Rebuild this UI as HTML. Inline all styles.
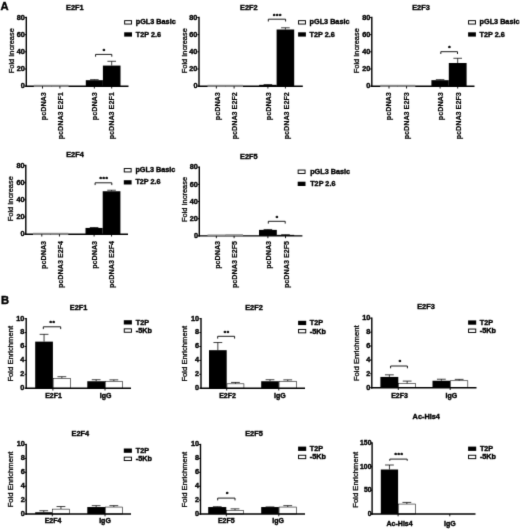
<!DOCTYPE html>
<html lang="en"><head><meta charset="utf-8"><title>E2F figure</title>
<style>html,body{margin:0;padding:0;background:#fff}svg{display:block}text{font-family:"Liberation Sans",Arial,sans-serif}</style></head><body>
<svg width="520" height="529" viewBox="0 0 520 529">
<defs><filter id="soft" x="0" y="0" width="520" height="529" filterUnits="userSpaceOnUse" color-interpolation-filters="sRGB"><feConvolveMatrix order="3" kernelMatrix="0.0113 0.0838 0.0113 0.0838 0.6193 0.0838 0.0113 0.0838 0.0113" edgeMode="duplicate" preserveAlpha="true"/></filter></defs>
<g filter="url(#soft)">
<rect width="520" height="529" fill="#fff"/>
<text x="0.6" y="9.6" font-size="11.2" text-anchor="start" font-weight="bold" stroke="#000" stroke-width="0.4" fill="#000">A</text>
<text x="1" y="304.1" font-size="11.2" text-anchor="start" font-weight="bold" stroke="#000" stroke-width="0.4" fill="#000">B</text>
<g>
<line x1="94.35" y1="80.19" x2="94.35" y2="79.67" stroke="#000" stroke-width="0.75" stroke-linecap="butt"/>
<line x1="90.05" y1="79.67" x2="98.65" y2="79.67" stroke="#000" stroke-width="0.75" stroke-linecap="butt"/>
<rect x="85.8" y="80.19" width="17.1" height="6.01" fill="#000"/>
<line x1="111.7" y1="65.58" x2="111.7" y2="61.29" stroke="#000" stroke-width="0.75" stroke-linecap="butt"/>
<line x1="107.4" y1="61.29" x2="116" y2="61.29" stroke="#000" stroke-width="0.75" stroke-linecap="butt"/>
<rect x="102.9" y="65.58" width="17.6" height="20.62" fill="#000"/>
<line x1="26.3" y1="16.78" x2="26.3" y2="86.9" stroke="#000" stroke-width="1.4" stroke-linecap="butt"/>
<line x1="25.6" y1="86.2" x2="128.5" y2="86.2" stroke="#000" stroke-width="1.4" stroke-linecap="butt"/>
<rect x="33.8" y="84.79" width="17.4" height="2.16" fill="#888888"/>
<rect x="51.2" y="84.79" width="17.4" height="2.16" fill="#888888"/>
<line x1="24.6" y1="86.2" x2="26.3" y2="86.2" stroke="#000" stroke-width="1" stroke-linecap="butt"/>
<text x="24.75" y="88.41" font-size="7.3" text-anchor="end" font-weight="bold" stroke="#000" stroke-width="0.4" fill="#000">0</text>
<line x1="24.6" y1="69.02" x2="26.3" y2="69.02" stroke="#000" stroke-width="1" stroke-linecap="butt"/>
<text x="24.75" y="71.23" font-size="7.3" text-anchor="end" font-weight="bold" stroke="#000" stroke-width="0.4" fill="#000">20</text>
<line x1="24.6" y1="51.84" x2="26.3" y2="51.84" stroke="#000" stroke-width="1" stroke-linecap="butt"/>
<text x="24.75" y="54.05" font-size="7.3" text-anchor="end" font-weight="bold" stroke="#000" stroke-width="0.4" fill="#000">40</text>
<line x1="24.6" y1="34.66" x2="26.3" y2="34.66" stroke="#000" stroke-width="1" stroke-linecap="butt"/>
<text x="24.75" y="36.87" font-size="7.3" text-anchor="end" font-weight="bold" stroke="#000" stroke-width="0.4" fill="#000">60</text>
<line x1="24.6" y1="17.48" x2="26.3" y2="17.48" stroke="#000" stroke-width="1" stroke-linecap="butt"/>
<text x="24.75" y="19.69" font-size="7.3" text-anchor="end" font-weight="bold" stroke="#000" stroke-width="0.4" fill="#000">80</text>
<line x1="42.5" y1="86.2" x2="42.5" y2="88.5" stroke="#000" stroke-width="0.9" stroke-linecap="butt"/>
<line x1="59.9" y1="86.2" x2="59.9" y2="88.5" stroke="#000" stroke-width="0.9" stroke-linecap="butt"/>
<line x1="94.35" y1="86.2" x2="94.35" y2="88.5" stroke="#000" stroke-width="0.9" stroke-linecap="butt"/>
<line x1="111.7" y1="86.2" x2="111.7" y2="88.5" stroke="#000" stroke-width="0.9" stroke-linecap="butt"/>
<text x="74.9" y="10" font-size="7.35" text-anchor="middle" font-weight="bold" stroke="#000" stroke-width="0.4" fill="#000">E2F1</text>
<text x="13.7" y="50.74" font-size="7.45" text-anchor="middle" stroke="#000" stroke-width="0.3" fill="#000" transform="rotate(-90 13.7 50.74)">Fold Increase</text>
<text x="46.3" y="92.2" font-size="7.2" text-anchor="end" font-weight="bold" stroke="#000" stroke-width="0.2" fill="#000" transform="rotate(-90 46.3 92.2)">pcDNA3</text>
<text x="63.3" y="92.2" font-size="7.2" text-anchor="end" font-weight="bold" stroke="#000" stroke-width="0.2" fill="#000" transform="rotate(-90 63.3 92.2)">pcDNA3 E2F1</text>
<text x="97" y="92.2" font-size="7.2" text-anchor="end" font-weight="bold" stroke="#000" stroke-width="0.2" fill="#000" transform="rotate(-90 97 92.2)">pcDNA3</text>
<text x="114.5" y="92.2" font-size="7.2" text-anchor="end" font-weight="bold" stroke="#000" stroke-width="0.2" fill="#000" transform="rotate(-90 114.5 92.2)">pcDNA3 E2F1</text>
<path d="M95.6 56.7 V54.4 H111.8 V56.7" fill="none" stroke="#000" stroke-width="0.9"/>
<text x="104.25" y="53" font-size="6" text-anchor="middle" font-weight="bold" stroke="#000" stroke-width="0.4" fill="#000" letter-spacing="0.7">*</text>
<rect x="124.65" y="20.65" width="6.9" height="3.4" fill="#fff" stroke="#000" stroke-width="0.95"/>
<text x="135.8" y="24.4" font-size="7.25" text-anchor="start" font-weight="bold" stroke="#000" stroke-width="0.4" fill="#000">pGL3 Basic</text>
<rect x="124.2" y="32.3" width="7.8" height="4.3" fill="#000"/>
<text x="135.8" y="36.5" font-size="7.25" text-anchor="start" font-weight="bold" stroke="#000" stroke-width="0.4" fill="#000">T2P 2.6</text>
</g>
<g>
<line x1="267.9" y1="84.83" x2="267.9" y2="84.57" stroke="#000" stroke-width="0.75" stroke-linecap="butt"/>
<line x1="263.6" y1="84.57" x2="272.2" y2="84.57" stroke="#000" stroke-width="0.75" stroke-linecap="butt"/>
<rect x="259.2" y="84.83" width="17.4" height="1.37" fill="#000"/>
<line x1="285.4" y1="29.51" x2="285.4" y2="27.79" stroke="#000" stroke-width="0.75" stroke-linecap="butt"/>
<line x1="281.1" y1="27.79" x2="289.7" y2="27.79" stroke="#000" stroke-width="0.75" stroke-linecap="butt"/>
<rect x="276.6" y="29.51" width="17.6" height="56.69" fill="#000"/>
<line x1="199" y1="16.78" x2="199" y2="86.9" stroke="#000" stroke-width="1.4" stroke-linecap="butt"/>
<line x1="198.3" y1="86.2" x2="302.8" y2="86.2" stroke="#000" stroke-width="1.4" stroke-linecap="butt"/>
<rect x="207.5" y="84.79" width="17.7" height="2.16" fill="#888888"/>
<rect x="225.2" y="84.79" width="17.8" height="2.16" fill="#888888"/>
<line x1="197.3" y1="86.2" x2="199" y2="86.2" stroke="#000" stroke-width="1" stroke-linecap="butt"/>
<text x="197.45" y="88.41" font-size="7.3" text-anchor="end" font-weight="bold" stroke="#000" stroke-width="0.4" fill="#000">0</text>
<line x1="197.3" y1="69.02" x2="199" y2="69.02" stroke="#000" stroke-width="1" stroke-linecap="butt"/>
<text x="197.45" y="71.23" font-size="7.3" text-anchor="end" font-weight="bold" stroke="#000" stroke-width="0.4" fill="#000">20</text>
<line x1="197.3" y1="51.84" x2="199" y2="51.84" stroke="#000" stroke-width="1" stroke-linecap="butt"/>
<text x="197.45" y="54.05" font-size="7.3" text-anchor="end" font-weight="bold" stroke="#000" stroke-width="0.4" fill="#000">40</text>
<line x1="197.3" y1="34.66" x2="199" y2="34.66" stroke="#000" stroke-width="1" stroke-linecap="butt"/>
<text x="197.45" y="36.87" font-size="7.3" text-anchor="end" font-weight="bold" stroke="#000" stroke-width="0.4" fill="#000">60</text>
<line x1="197.3" y1="17.48" x2="199" y2="17.48" stroke="#000" stroke-width="1" stroke-linecap="butt"/>
<text x="197.45" y="19.69" font-size="7.3" text-anchor="end" font-weight="bold" stroke="#000" stroke-width="0.4" fill="#000">80</text>
<line x1="216.35" y1="86.2" x2="216.35" y2="88.5" stroke="#000" stroke-width="0.9" stroke-linecap="butt"/>
<line x1="234.1" y1="86.2" x2="234.1" y2="88.5" stroke="#000" stroke-width="0.9" stroke-linecap="butt"/>
<line x1="267.9" y1="86.2" x2="267.9" y2="88.5" stroke="#000" stroke-width="0.9" stroke-linecap="butt"/>
<line x1="285.4" y1="86.2" x2="285.4" y2="88.5" stroke="#000" stroke-width="0.9" stroke-linecap="butt"/>
<text x="248.8" y="10" font-size="7.35" text-anchor="middle" font-weight="bold" stroke="#000" stroke-width="0.4" fill="#000">E2F2</text>
<text x="187.4" y="50.74" font-size="7.45" text-anchor="middle" stroke="#000" stroke-width="0.3" fill="#000" transform="rotate(-90 187.4 50.74)">Fold Increase</text>
<text x="219.7" y="92.2" font-size="7.2" text-anchor="end" font-weight="bold" stroke="#000" stroke-width="0.2" fill="#000" transform="rotate(-90 219.7 92.2)">pcDNA3</text>
<text x="237.2" y="92.2" font-size="7.2" text-anchor="end" font-weight="bold" stroke="#000" stroke-width="0.2" fill="#000" transform="rotate(-90 237.2 92.2)">pcDNA3 E2F2</text>
<text x="271.5" y="92.2" font-size="7.2" text-anchor="end" font-weight="bold" stroke="#000" stroke-width="0.2" fill="#000" transform="rotate(-90 271.5 92.2)">pcDNA3</text>
<text x="289" y="92.2" font-size="7.2" text-anchor="end" font-weight="bold" stroke="#000" stroke-width="0.2" fill="#000" transform="rotate(-90 289 92.2)">pcDNA3 E2F2</text>
<path d="M268.3 21.5 V19.2 H285.6 V21.5" fill="none" stroke="#000" stroke-width="0.9"/>
<text x="277.5" y="18.2" font-size="6" text-anchor="middle" font-weight="bold" stroke="#000" stroke-width="0.4" fill="#000" letter-spacing="0.7">***</text>
<rect x="298.55" y="20.65" width="6.9" height="3.4" fill="#fff" stroke="#000" stroke-width="0.95"/>
<text x="309.6" y="24.4" font-size="7.25" text-anchor="start" font-weight="bold" stroke="#000" stroke-width="0.4" fill="#000">pGL3 Basic</text>
<rect x="298.1" y="32.3" width="7.8" height="4.3" fill="#000"/>
<text x="309.6" y="36.5" font-size="7.25" text-anchor="start" font-weight="bold" stroke="#000" stroke-width="0.4" fill="#000">T2P 2.6</text>
</g>
<g>
<line x1="440.1" y1="80.19" x2="440.1" y2="79.67" stroke="#000" stroke-width="0.75" stroke-linecap="butt"/>
<line x1="435.8" y1="79.67" x2="444.4" y2="79.67" stroke="#000" stroke-width="0.75" stroke-linecap="butt"/>
<rect x="431.4" y="80.19" width="17.4" height="6.01" fill="#000"/>
<line x1="457.7" y1="63.01" x2="457.7" y2="58.28" stroke="#000" stroke-width="0.75" stroke-linecap="butt"/>
<line x1="453.4" y1="58.28" x2="462" y2="58.28" stroke="#000" stroke-width="0.75" stroke-linecap="butt"/>
<rect x="448.8" y="63.01" width="17.8" height="23.19" fill="#000"/>
<line x1="371.8" y1="16.78" x2="371.8" y2="86.9" stroke="#000" stroke-width="1.4" stroke-linecap="butt"/>
<line x1="371.1" y1="86.2" x2="474.5" y2="86.2" stroke="#000" stroke-width="1.4" stroke-linecap="butt"/>
<rect x="380.2" y="84.79" width="17.6" height="2.16" fill="#888888"/>
<rect x="397.8" y="84.79" width="17.5" height="2.16" fill="#888888"/>
<line x1="370.1" y1="86.2" x2="371.8" y2="86.2" stroke="#000" stroke-width="1" stroke-linecap="butt"/>
<text x="370.25" y="88.41" font-size="7.3" text-anchor="end" font-weight="bold" stroke="#000" stroke-width="0.4" fill="#000">0</text>
<line x1="370.1" y1="69.02" x2="371.8" y2="69.02" stroke="#000" stroke-width="1" stroke-linecap="butt"/>
<text x="370.25" y="71.23" font-size="7.3" text-anchor="end" font-weight="bold" stroke="#000" stroke-width="0.4" fill="#000">20</text>
<line x1="370.1" y1="51.84" x2="371.8" y2="51.84" stroke="#000" stroke-width="1" stroke-linecap="butt"/>
<text x="370.25" y="54.05" font-size="7.3" text-anchor="end" font-weight="bold" stroke="#000" stroke-width="0.4" fill="#000">40</text>
<line x1="370.1" y1="34.66" x2="371.8" y2="34.66" stroke="#000" stroke-width="1" stroke-linecap="butt"/>
<text x="370.25" y="36.87" font-size="7.3" text-anchor="end" font-weight="bold" stroke="#000" stroke-width="0.4" fill="#000">60</text>
<line x1="370.1" y1="17.48" x2="371.8" y2="17.48" stroke="#000" stroke-width="1" stroke-linecap="butt"/>
<text x="370.25" y="19.69" font-size="7.3" text-anchor="end" font-weight="bold" stroke="#000" stroke-width="0.4" fill="#000">80</text>
<line x1="389" y1="86.2" x2="389" y2="88.5" stroke="#000" stroke-width="0.9" stroke-linecap="butt"/>
<line x1="406.55" y1="86.2" x2="406.55" y2="88.5" stroke="#000" stroke-width="0.9" stroke-linecap="butt"/>
<line x1="440.1" y1="86.2" x2="440.1" y2="88.5" stroke="#000" stroke-width="0.9" stroke-linecap="butt"/>
<line x1="457.7" y1="86.2" x2="457.7" y2="88.5" stroke="#000" stroke-width="0.9" stroke-linecap="butt"/>
<text x="421" y="10" font-size="7.35" text-anchor="middle" font-weight="bold" stroke="#000" stroke-width="0.4" fill="#000">E2F3</text>
<text x="359.4" y="50.74" font-size="7.45" text-anchor="middle" stroke="#000" stroke-width="0.3" fill="#000" transform="rotate(-90 359.4 50.74)">Fold Increase</text>
<text x="391.4" y="92.2" font-size="7.2" text-anchor="end" font-weight="bold" stroke="#000" stroke-width="0.2" fill="#000" transform="rotate(-90 391.4 92.2)">pcDNA3</text>
<text x="408.9" y="92.2" font-size="7.2" text-anchor="end" font-weight="bold" stroke="#000" stroke-width="0.2" fill="#000" transform="rotate(-90 408.9 92.2)">pcDNA3 E2F3</text>
<text x="443.5" y="92.2" font-size="7.2" text-anchor="end" font-weight="bold" stroke="#000" stroke-width="0.2" fill="#000" transform="rotate(-90 443.5 92.2)">pcDNA3</text>
<text x="460.7" y="92.2" font-size="7.2" text-anchor="end" font-weight="bold" stroke="#000" stroke-width="0.2" fill="#000" transform="rotate(-90 460.7 92.2)">pcDNA3 E2F3</text>
<path d="M440.8 54 V51.7 H457.5 V54" fill="none" stroke="#000" stroke-width="0.9"/>
<text x="449.7" y="50" font-size="6" text-anchor="middle" font-weight="bold" stroke="#000" stroke-width="0.4" fill="#000" letter-spacing="0.7">*</text>
<rect x="468.55" y="20.65" width="6.9" height="3.4" fill="#fff" stroke="#000" stroke-width="0.95"/>
<text x="479.6" y="24.4" font-size="7.25" text-anchor="start" font-weight="bold" stroke="#000" stroke-width="0.4" fill="#000">pGL3 Basic</text>
<rect x="468.1" y="32.3" width="7.8" height="4.3" fill="#000"/>
<text x="479.6" y="36.5" font-size="7.25" text-anchor="start" font-weight="bold" stroke="#000" stroke-width="0.4" fill="#000">T2P 2.6</text>
</g>
<g>
<line x1="94.1" y1="227.93" x2="94.1" y2="227.5" stroke="#000" stroke-width="0.75" stroke-linecap="butt"/>
<line x1="89.8" y1="227.5" x2="98.4" y2="227.5" stroke="#000" stroke-width="0.75" stroke-linecap="butt"/>
<rect x="85.5" y="227.93" width="17.2" height="6.27" fill="#000"/>
<line x1="111.55" y1="191.25" x2="111.55" y2="190.22" stroke="#000" stroke-width="0.75" stroke-linecap="butt"/>
<line x1="107.25" y1="190.22" x2="115.85" y2="190.22" stroke="#000" stroke-width="0.75" stroke-linecap="butt"/>
<rect x="102.7" y="191.25" width="17.7" height="42.95" fill="#000"/>
<line x1="25.8" y1="164.78" x2="25.8" y2="234.9" stroke="#000" stroke-width="1.4" stroke-linecap="butt"/>
<line x1="25.1" y1="234.2" x2="128" y2="234.2" stroke="#000" stroke-width="1.4" stroke-linecap="butt"/>
<rect x="33" y="232.79" width="17.6" height="2.16" fill="#888888"/>
<rect x="50.6" y="232.79" width="17.7" height="2.16" fill="#888888"/>
<line x1="24.1" y1="234.2" x2="25.8" y2="234.2" stroke="#000" stroke-width="1" stroke-linecap="butt"/>
<text x="24.55" y="236.41" font-size="7.3" text-anchor="end" font-weight="bold" stroke="#000" stroke-width="0.4" fill="#000">0</text>
<line x1="24.1" y1="217.02" x2="25.8" y2="217.02" stroke="#000" stroke-width="1" stroke-linecap="butt"/>
<text x="24.55" y="219.23" font-size="7.3" text-anchor="end" font-weight="bold" stroke="#000" stroke-width="0.4" fill="#000">20</text>
<line x1="24.1" y1="199.84" x2="25.8" y2="199.84" stroke="#000" stroke-width="1" stroke-linecap="butt"/>
<text x="24.55" y="202.05" font-size="7.3" text-anchor="end" font-weight="bold" stroke="#000" stroke-width="0.4" fill="#000">40</text>
<line x1="24.1" y1="182.66" x2="25.8" y2="182.66" stroke="#000" stroke-width="1" stroke-linecap="butt"/>
<text x="24.55" y="184.87" font-size="7.3" text-anchor="end" font-weight="bold" stroke="#000" stroke-width="0.4" fill="#000">60</text>
<line x1="24.1" y1="165.48" x2="25.8" y2="165.48" stroke="#000" stroke-width="1" stroke-linecap="butt"/>
<text x="24.55" y="167.69" font-size="7.3" text-anchor="end" font-weight="bold" stroke="#000" stroke-width="0.4" fill="#000">80</text>
<line x1="41.8" y1="234.2" x2="41.8" y2="236.5" stroke="#000" stroke-width="0.9" stroke-linecap="butt"/>
<line x1="59.45" y1="234.2" x2="59.45" y2="236.5" stroke="#000" stroke-width="0.9" stroke-linecap="butt"/>
<line x1="94.1" y1="234.2" x2="94.1" y2="236.5" stroke="#000" stroke-width="0.9" stroke-linecap="butt"/>
<line x1="111.55" y1="234.2" x2="111.55" y2="236.5" stroke="#000" stroke-width="0.9" stroke-linecap="butt"/>
<text x="75" y="157.4" font-size="7.35" text-anchor="middle" font-weight="bold" stroke="#000" stroke-width="0.4" fill="#000">E2F4</text>
<text x="13.4" y="198.74" font-size="7.45" text-anchor="middle" stroke="#000" stroke-width="0.3" fill="#000" transform="rotate(-90 13.4 198.74)">Fold Increase</text>
<text x="46.1" y="240.9" font-size="7.2" text-anchor="end" font-weight="bold" stroke="#000" stroke-width="0.2" fill="#000" transform="rotate(-90 46.1 240.9)">pcDNA3</text>
<text x="63.1" y="240.9" font-size="7.2" text-anchor="end" font-weight="bold" stroke="#000" stroke-width="0.2" fill="#000" transform="rotate(-90 63.1 240.9)">pcDNA3 E2F4</text>
<text x="97" y="240.9" font-size="7.2" text-anchor="end" font-weight="bold" stroke="#000" stroke-width="0.2" fill="#000" transform="rotate(-90 97 240.9)">pcDNA3</text>
<text x="114.5" y="240.9" font-size="7.2" text-anchor="end" font-weight="bold" stroke="#000" stroke-width="0.2" fill="#000" transform="rotate(-90 114.5 240.9)">pcDNA3 E2F4</text>
<path d="M95.1 185.1 V182.8 H111.8 V185.1" fill="none" stroke="#000" stroke-width="0.9"/>
<text x="104" y="181.1" font-size="6" text-anchor="middle" font-weight="bold" stroke="#000" stroke-width="0.4" fill="#000" letter-spacing="0.7">***</text>
<rect x="124.25" y="168.55" width="6.9" height="3.4" fill="#fff" stroke="#000" stroke-width="0.95"/>
<text x="135.4" y="172.3" font-size="7.25" text-anchor="start" font-weight="bold" stroke="#000" stroke-width="0.4" fill="#000">pGL3 Basic</text>
<rect x="123.8" y="180.2" width="7.8" height="4.3" fill="#000"/>
<text x="135.4" y="184.4" font-size="7.25" text-anchor="start" font-weight="bold" stroke="#000" stroke-width="0.4" fill="#000">T2P 2.6</text>
</g>
<g>
<line x1="267.9" y1="229.89" x2="267.9" y2="229.46" stroke="#000" stroke-width="0.75" stroke-linecap="butt"/>
<line x1="263.6" y1="229.46" x2="272.2" y2="229.46" stroke="#000" stroke-width="0.75" stroke-linecap="butt"/>
<rect x="259" y="229.89" width="17.8" height="6.01" fill="#000"/>
<line x1="285.5" y1="234.87" x2="285.5" y2="234.7" stroke="#000" stroke-width="0.75" stroke-linecap="butt"/>
<line x1="281.2" y1="234.7" x2="289.8" y2="234.7" stroke="#000" stroke-width="0.75" stroke-linecap="butt"/>
<rect x="276.8" y="234.87" width="17.4" height="1.03" fill="#000"/>
<line x1="199.3" y1="166.48" x2="199.3" y2="236.6" stroke="#000" stroke-width="1.4" stroke-linecap="butt"/>
<line x1="198.6" y1="235.9" x2="302.4" y2="235.9" stroke="#000" stroke-width="1.4" stroke-linecap="butt"/>
<rect x="207.5" y="234.49" width="17.7" height="2.16" fill="#888888"/>
<rect x="225.2" y="234.23" width="17.8" height="2.42" fill="#888888"/>
<line x1="197.6" y1="235.9" x2="199.3" y2="235.9" stroke="#000" stroke-width="1" stroke-linecap="butt"/>
<text x="197.95" y="238.11" font-size="7.3" text-anchor="end" font-weight="bold" stroke="#000" stroke-width="0.4" fill="#000">0</text>
<line x1="197.6" y1="218.72" x2="199.3" y2="218.72" stroke="#000" stroke-width="1" stroke-linecap="butt"/>
<text x="197.95" y="220.93" font-size="7.3" text-anchor="end" font-weight="bold" stroke="#000" stroke-width="0.4" fill="#000">20</text>
<line x1="197.6" y1="201.54" x2="199.3" y2="201.54" stroke="#000" stroke-width="1" stroke-linecap="butt"/>
<text x="197.95" y="203.75" font-size="7.3" text-anchor="end" font-weight="bold" stroke="#000" stroke-width="0.4" fill="#000">40</text>
<line x1="197.6" y1="184.36" x2="199.3" y2="184.36" stroke="#000" stroke-width="1" stroke-linecap="butt"/>
<text x="197.95" y="186.57" font-size="7.3" text-anchor="end" font-weight="bold" stroke="#000" stroke-width="0.4" fill="#000">60</text>
<line x1="197.6" y1="167.18" x2="199.3" y2="167.18" stroke="#000" stroke-width="1" stroke-linecap="butt"/>
<text x="197.95" y="169.39" font-size="7.3" text-anchor="end" font-weight="bold" stroke="#000" stroke-width="0.4" fill="#000">80</text>
<line x1="216.35" y1="235.9" x2="216.35" y2="238.2" stroke="#000" stroke-width="0.9" stroke-linecap="butt"/>
<line x1="234.1" y1="235.9" x2="234.1" y2="238.2" stroke="#000" stroke-width="0.9" stroke-linecap="butt"/>
<line x1="267.9" y1="235.9" x2="267.9" y2="238.2" stroke="#000" stroke-width="0.9" stroke-linecap="butt"/>
<line x1="285.5" y1="235.9" x2="285.5" y2="238.2" stroke="#000" stroke-width="0.9" stroke-linecap="butt"/>
<text x="248.8" y="158.8" font-size="7.35" text-anchor="middle" font-weight="bold" stroke="#000" stroke-width="0.4" fill="#000">E2F5</text>
<text x="187.4" y="199.44" font-size="7.45" text-anchor="middle" stroke="#000" stroke-width="0.3" fill="#000" transform="rotate(-90 187.4 199.44)">Fold Increase</text>
<text x="219.8" y="240.9" font-size="7.2" text-anchor="end" font-weight="bold" stroke="#000" stroke-width="0.2" fill="#000" transform="rotate(-90 219.8 240.9)">pcDNA3</text>
<text x="237.3" y="240.9" font-size="7.2" text-anchor="end" font-weight="bold" stroke="#000" stroke-width="0.2" fill="#000" transform="rotate(-90 237.3 240.9)">pcDNA3 E2F5</text>
<text x="271.5" y="240.9" font-size="7.2" text-anchor="end" font-weight="bold" stroke="#000" stroke-width="0.2" fill="#000" transform="rotate(-90 271.5 240.9)">pcDNA3</text>
<text x="289" y="240.9" font-size="7.2" text-anchor="end" font-weight="bold" stroke="#000" stroke-width="0.2" fill="#000" transform="rotate(-90 289 240.9)">pcDNA3 E2F5</text>
<path d="M268.3 223.6 V221.3 H285.2 V223.6" fill="none" stroke="#000" stroke-width="0.9"/>
<text x="277.3" y="219.7" font-size="6" text-anchor="middle" font-weight="bold" stroke="#000" stroke-width="0.4" fill="#000" letter-spacing="0.7">*</text>
<rect x="298.15" y="170.05" width="6.9" height="3.4" fill="#fff" stroke="#000" stroke-width="0.95"/>
<text x="310.2" y="173.8" font-size="7.25" text-anchor="start" font-weight="bold" stroke="#000" stroke-width="0.4" fill="#000">pGL3 Basic</text>
<rect x="297.7" y="181.7" width="7.8" height="4.3" fill="#000"/>
<text x="310.2" y="185.9" font-size="7.25" text-anchor="start" font-weight="bold" stroke="#000" stroke-width="0.4" fill="#000">T2P 2.6</text>
</g>
<g>
<line x1="44.05" y1="341.63" x2="44.05" y2="334.34" stroke="#000" stroke-width="0.75" stroke-linecap="butt"/>
<line x1="39.65" y1="334.34" x2="48.45" y2="334.34" stroke="#000" stroke-width="0.75" stroke-linecap="butt"/>
<rect x="35.2" y="341.63" width="17.7" height="46.56" fill="#000"/>
<line x1="61.85" y1="378.47" x2="61.85" y2="376.73" stroke="#000" stroke-width="0.75" stroke-linecap="butt"/>
<line x1="57.45" y1="376.73" x2="66.25" y2="376.73" stroke="#000" stroke-width="0.75" stroke-linecap="butt"/>
<rect x="53.17" y="378.47" width="17.35" height="9.73" fill="#fff" stroke="#000" stroke-width="0.55"/>
<line x1="96.15" y1="381.25" x2="96.15" y2="379.72" stroke="#000" stroke-width="0.75" stroke-linecap="butt"/>
<line x1="91.75" y1="379.72" x2="100.55" y2="379.72" stroke="#000" stroke-width="0.75" stroke-linecap="butt"/>
<rect x="87.3" y="381.25" width="17.7" height="6.95" fill="#000"/>
<line x1="113.85" y1="381.25" x2="113.85" y2="379.86" stroke="#000" stroke-width="0.75" stroke-linecap="butt"/>
<line x1="109.45" y1="379.86" x2="118.25" y2="379.86" stroke="#000" stroke-width="0.75" stroke-linecap="butt"/>
<rect x="105.28" y="381.25" width="17.15" height="6.95" fill="#fff" stroke="#000" stroke-width="0.55"/>
<line x1="26.2" y1="318" x2="26.2" y2="388.9" stroke="#000" stroke-width="1.4" stroke-linecap="butt"/>
<line x1="25.5" y1="388.2" x2="131" y2="388.2" stroke="#000" stroke-width="1.4" stroke-linecap="butt"/>
<line x1="24.5" y1="388.2" x2="26.2" y2="388.2" stroke="#000" stroke-width="1" stroke-linecap="butt"/>
<text x="24.25" y="390.01" font-size="7.3" text-anchor="end" font-weight="bold" stroke="#000" stroke-width="0.4" fill="#000">0</text>
<line x1="24.5" y1="374.3" x2="26.2" y2="374.3" stroke="#000" stroke-width="1" stroke-linecap="butt"/>
<text x="24.25" y="376.11" font-size="7.3" text-anchor="end" font-weight="bold" stroke="#000" stroke-width="0.4" fill="#000">2</text>
<line x1="24.5" y1="360.4" x2="26.2" y2="360.4" stroke="#000" stroke-width="1" stroke-linecap="butt"/>
<text x="24.25" y="362.21" font-size="7.3" text-anchor="end" font-weight="bold" stroke="#000" stroke-width="0.4" fill="#000">4</text>
<line x1="24.5" y1="346.5" x2="26.2" y2="346.5" stroke="#000" stroke-width="1" stroke-linecap="butt"/>
<text x="24.25" y="348.31" font-size="7.3" text-anchor="end" font-weight="bold" stroke="#000" stroke-width="0.4" fill="#000">6</text>
<line x1="24.5" y1="332.6" x2="26.2" y2="332.6" stroke="#000" stroke-width="1" stroke-linecap="butt"/>
<text x="24.25" y="334.41" font-size="7.3" text-anchor="end" font-weight="bold" stroke="#000" stroke-width="0.4" fill="#000">8</text>
<line x1="24.5" y1="318.7" x2="26.2" y2="318.7" stroke="#000" stroke-width="1" stroke-linecap="butt"/>
<text x="24.25" y="320.51" font-size="7.3" text-anchor="end" font-weight="bold" stroke="#000" stroke-width="0.4" fill="#000">10</text>
<line x1="52.9" y1="388.2" x2="52.9" y2="390.5" stroke="#000" stroke-width="0.9" stroke-linecap="butt"/>
<line x1="105" y1="388.2" x2="105" y2="390.5" stroke="#000" stroke-width="0.9" stroke-linecap="butt"/>
<text x="78.6" y="310.4" font-size="7.35" text-anchor="middle" font-weight="bold" stroke="#000" stroke-width="0.4" fill="#000">E2F1</text>
<text x="13.4" y="353.75" font-size="7.65" text-anchor="middle" stroke="#000" stroke-width="0.3" fill="#000" transform="rotate(-90 13.4 353.75)">Fold Enrichment</text>
<text x="53.5" y="398.3" font-size="7" text-anchor="middle" font-weight="bold" stroke="#000" stroke-width="0.4" fill="#000">E2F1</text>
<text x="105.6" y="398.3" font-size="7" text-anchor="middle" font-weight="bold" stroke="#000" stroke-width="0.4" fill="#000">IgG</text>
<path d="M43.3 329.1 V326.8 H60.7 V329.1" fill="none" stroke="#000" stroke-width="0.9"/>
<text x="52.55" y="325.1" font-size="6" text-anchor="middle" font-weight="bold" stroke="#000" stroke-width="0.4" fill="#000" letter-spacing="0.7">**</text>
<rect x="123.8" y="320.2" width="8.1" height="4.3" fill="#000"/>
<text x="135.8" y="324.7" font-size="7.25" text-anchor="start" font-weight="bold" stroke="#000" stroke-width="0.4" fill="#000">T2P</text>
<rect x="124.25" y="328.85" width="7.2" height="3.4" fill="#fff" stroke="#000" stroke-width="0.95"/>
<text x="135.8" y="332.9" font-size="7.25" text-anchor="start" font-weight="bold" stroke="#000" stroke-width="0.4" fill="#000">-5Kb</text>
</g>
<g>
<line x1="217.85" y1="350.18" x2="217.85" y2="342.54" stroke="#000" stroke-width="0.75" stroke-linecap="butt"/>
<line x1="213.45" y1="342.54" x2="222.25" y2="342.54" stroke="#000" stroke-width="0.75" stroke-linecap="butt"/>
<rect x="209" y="350.18" width="17.7" height="38.02" fill="#000"/>
<line x1="235.45" y1="383.82" x2="235.45" y2="382.43" stroke="#000" stroke-width="0.75" stroke-linecap="butt"/>
<line x1="231.05" y1="382.43" x2="239.85" y2="382.43" stroke="#000" stroke-width="0.75" stroke-linecap="butt"/>
<rect x="226.97" y="383.82" width="16.95" height="4.38" fill="#fff" stroke="#000" stroke-width="0.55"/>
<line x1="270" y1="381.25" x2="270" y2="379.72" stroke="#000" stroke-width="0.75" stroke-linecap="butt"/>
<line x1="265.6" y1="379.72" x2="274.4" y2="379.72" stroke="#000" stroke-width="0.75" stroke-linecap="butt"/>
<rect x="261.2" y="381.25" width="17.6" height="6.95" fill="#000"/>
<line x1="287.75" y1="381.25" x2="287.75" y2="379.86" stroke="#000" stroke-width="0.75" stroke-linecap="butt"/>
<line x1="283.35" y1="379.86" x2="292.15" y2="379.86" stroke="#000" stroke-width="0.75" stroke-linecap="butt"/>
<rect x="279.07" y="381.25" width="17.35" height="6.95" fill="#fff" stroke="#000" stroke-width="0.55"/>
<line x1="201" y1="318" x2="201" y2="388.9" stroke="#000" stroke-width="1.4" stroke-linecap="butt"/>
<line x1="200.3" y1="388.2" x2="305" y2="388.2" stroke="#000" stroke-width="1.4" stroke-linecap="butt"/>
<line x1="199.3" y1="388.2" x2="201" y2="388.2" stroke="#000" stroke-width="1" stroke-linecap="butt"/>
<text x="199.05" y="390.01" font-size="7.3" text-anchor="end" font-weight="bold" stroke="#000" stroke-width="0.4" fill="#000">0</text>
<line x1="199.3" y1="374.3" x2="201" y2="374.3" stroke="#000" stroke-width="1" stroke-linecap="butt"/>
<text x="199.05" y="376.11" font-size="7.3" text-anchor="end" font-weight="bold" stroke="#000" stroke-width="0.4" fill="#000">2</text>
<line x1="199.3" y1="360.4" x2="201" y2="360.4" stroke="#000" stroke-width="1" stroke-linecap="butt"/>
<text x="199.05" y="362.21" font-size="7.3" text-anchor="end" font-weight="bold" stroke="#000" stroke-width="0.4" fill="#000">4</text>
<line x1="199.3" y1="346.5" x2="201" y2="346.5" stroke="#000" stroke-width="1" stroke-linecap="butt"/>
<text x="199.05" y="348.31" font-size="7.3" text-anchor="end" font-weight="bold" stroke="#000" stroke-width="0.4" fill="#000">6</text>
<line x1="199.3" y1="332.6" x2="201" y2="332.6" stroke="#000" stroke-width="1" stroke-linecap="butt"/>
<text x="199.05" y="334.41" font-size="7.3" text-anchor="end" font-weight="bold" stroke="#000" stroke-width="0.4" fill="#000">8</text>
<line x1="199.3" y1="318.7" x2="201" y2="318.7" stroke="#000" stroke-width="1" stroke-linecap="butt"/>
<text x="199.05" y="320.51" font-size="7.3" text-anchor="end" font-weight="bold" stroke="#000" stroke-width="0.4" fill="#000">10</text>
<line x1="226.7" y1="388.2" x2="226.7" y2="390.5" stroke="#000" stroke-width="0.9" stroke-linecap="butt"/>
<line x1="278.8" y1="388.2" x2="278.8" y2="390.5" stroke="#000" stroke-width="0.9" stroke-linecap="butt"/>
<text x="254" y="310.4" font-size="7.35" text-anchor="middle" font-weight="bold" stroke="#000" stroke-width="0.4" fill="#000">E2F2</text>
<text x="187.1" y="353.75" font-size="7.65" text-anchor="middle" stroke="#000" stroke-width="0.3" fill="#000" transform="rotate(-90 187.1 353.75)">Fold Enrichment</text>
<text x="227.5" y="398.3" font-size="7" text-anchor="middle" font-weight="bold" stroke="#000" stroke-width="0.4" fill="#000">E2F2</text>
<text x="279.9" y="398.3" font-size="7" text-anchor="middle" font-weight="bold" stroke="#000" stroke-width="0.4" fill="#000">IgG</text>
<path d="M217.7 338.6 V336.3 H234.6 V338.6" fill="none" stroke="#000" stroke-width="0.9"/>
<text x="226.7" y="335" font-size="6" text-anchor="middle" font-weight="bold" stroke="#000" stroke-width="0.4" fill="#000" letter-spacing="0.7">**</text>
<rect x="298.1" y="320.8" width="8.1" height="4.3" fill="#000"/>
<text x="309.8" y="325.3" font-size="7.25" text-anchor="start" font-weight="bold" stroke="#000" stroke-width="0.4" fill="#000">T2P</text>
<rect x="298.55" y="329.45" width="7.2" height="3.4" fill="#fff" stroke="#000" stroke-width="0.95"/>
<text x="309.8" y="333.5" font-size="7.25" text-anchor="start" font-weight="bold" stroke="#000" stroke-width="0.4" fill="#000">-5Kb</text>
</g>
<g>
<line x1="389.35" y1="376.93" x2="389.35" y2="374.84" stroke="#000" stroke-width="0.75" stroke-linecap="butt"/>
<line x1="384.95" y1="374.84" x2="393.75" y2="374.84" stroke="#000" stroke-width="0.75" stroke-linecap="butt"/>
<rect x="380.4" y="376.93" width="17.9" height="10.77" fill="#000"/>
<line x1="407.15" y1="383.53" x2="407.15" y2="381.1" stroke="#000" stroke-width="0.75" stroke-linecap="butt"/>
<line x1="402.75" y1="381.1" x2="411.55" y2="381.1" stroke="#000" stroke-width="0.75" stroke-linecap="butt"/>
<line x1="407.15" y1="383.53" x2="407.15" y2="385.96" stroke="#000" stroke-width="0.75" stroke-linecap="butt"/>
<line x1="402.75" y1="385.96" x2="411.55" y2="385.96" stroke="#000" stroke-width="0.75" stroke-linecap="butt"/>
<rect x="398.57" y="383.53" width="17.15" height="4.17" fill="#fff" stroke="#000" stroke-width="0.55"/>
<line x1="441.35" y1="380.75" x2="441.35" y2="379.22" stroke="#000" stroke-width="0.75" stroke-linecap="butt"/>
<line x1="436.95" y1="379.22" x2="445.75" y2="379.22" stroke="#000" stroke-width="0.75" stroke-linecap="butt"/>
<rect x="432.5" y="380.75" width="17.7" height="6.95" fill="#000"/>
<line x1="459.15" y1="380.75" x2="459.15" y2="379.36" stroke="#000" stroke-width="0.75" stroke-linecap="butt"/>
<line x1="454.75" y1="379.36" x2="463.55" y2="379.36" stroke="#000" stroke-width="0.75" stroke-linecap="butt"/>
<rect x="450.47" y="380.75" width="17.35" height="6.95" fill="#fff" stroke="#000" stroke-width="0.55"/>
<line x1="371.8" y1="317.5" x2="371.8" y2="388.4" stroke="#000" stroke-width="1.4" stroke-linecap="butt"/>
<line x1="371.1" y1="387.7" x2="476.5" y2="387.7" stroke="#000" stroke-width="1.4" stroke-linecap="butt"/>
<line x1="370.1" y1="387.7" x2="371.8" y2="387.7" stroke="#000" stroke-width="1" stroke-linecap="butt"/>
<text x="370.35" y="389.51" font-size="7.3" text-anchor="end" font-weight="bold" stroke="#000" stroke-width="0.4" fill="#000">0</text>
<line x1="370.1" y1="373.8" x2="371.8" y2="373.8" stroke="#000" stroke-width="1" stroke-linecap="butt"/>
<text x="370.35" y="375.61" font-size="7.3" text-anchor="end" font-weight="bold" stroke="#000" stroke-width="0.4" fill="#000">2</text>
<line x1="370.1" y1="359.9" x2="371.8" y2="359.9" stroke="#000" stroke-width="1" stroke-linecap="butt"/>
<text x="370.35" y="361.71" font-size="7.3" text-anchor="end" font-weight="bold" stroke="#000" stroke-width="0.4" fill="#000">4</text>
<line x1="370.1" y1="346" x2="371.8" y2="346" stroke="#000" stroke-width="1" stroke-linecap="butt"/>
<text x="370.35" y="347.81" font-size="7.3" text-anchor="end" font-weight="bold" stroke="#000" stroke-width="0.4" fill="#000">6</text>
<line x1="370.1" y1="332.1" x2="371.8" y2="332.1" stroke="#000" stroke-width="1" stroke-linecap="butt"/>
<text x="370.35" y="333.91" font-size="7.3" text-anchor="end" font-weight="bold" stroke="#000" stroke-width="0.4" fill="#000">8</text>
<line x1="370.1" y1="318.2" x2="371.8" y2="318.2" stroke="#000" stroke-width="1" stroke-linecap="butt"/>
<text x="370.35" y="320.01" font-size="7.3" text-anchor="end" font-weight="bold" stroke="#000" stroke-width="0.4" fill="#000">10</text>
<line x1="398.3" y1="387.7" x2="398.3" y2="390" stroke="#000" stroke-width="0.9" stroke-linecap="butt"/>
<line x1="450.2" y1="387.7" x2="450.2" y2="390" stroke="#000" stroke-width="0.9" stroke-linecap="butt"/>
<text x="426" y="308.8" font-size="7.35" text-anchor="middle" font-weight="bold" stroke="#000" stroke-width="0.4" fill="#000">E2F3</text>
<text x="358.5" y="353.25" font-size="7.65" text-anchor="middle" stroke="#000" stroke-width="0.3" fill="#000" transform="rotate(-90 358.5 353.25)">Fold Enrichment</text>
<text x="399.5" y="397.6" font-size="7" text-anchor="middle" font-weight="bold" stroke="#000" stroke-width="0.4" fill="#000">E2F3</text>
<text x="451.4" y="397.6" font-size="7" text-anchor="middle" font-weight="bold" stroke="#000" stroke-width="0.4" fill="#000">IgG</text>
<path d="M390.6 368.3 V366 H407.4 V368.3" fill="none" stroke="#000" stroke-width="0.9"/>
<text x="400.25" y="363.9" font-size="6" text-anchor="middle" font-weight="bold" stroke="#000" stroke-width="0.4" fill="#000" letter-spacing="0.7">*</text>
<rect x="468.1" y="320.4" width="8.1" height="4.3" fill="#000"/>
<text x="479.8" y="324.9" font-size="7.25" text-anchor="start" font-weight="bold" stroke="#000" stroke-width="0.4" fill="#000">T2P</text>
<rect x="468.55" y="329.05" width="7.2" height="3.4" fill="#fff" stroke="#000" stroke-width="0.95"/>
<text x="479.8" y="333.1" font-size="7.25" text-anchor="start" font-weight="bold" stroke="#000" stroke-width="0.4" fill="#000">-5Kb</text>
</g>
<g>
<line x1="43.75" y1="512.26" x2="43.75" y2="510.73" stroke="#000" stroke-width="0.75" stroke-linecap="butt"/>
<line x1="39.35" y1="510.73" x2="48.15" y2="510.73" stroke="#000" stroke-width="0.75" stroke-linecap="butt"/>
<rect x="35.2" y="512.26" width="17.1" height="1.74" fill="#000"/>
<line x1="60.95" y1="509.13" x2="60.95" y2="506.56" stroke="#000" stroke-width="0.75" stroke-linecap="butt"/>
<line x1="56.55" y1="506.56" x2="65.35" y2="506.56" stroke="#000" stroke-width="0.75" stroke-linecap="butt"/>
<rect x="52.57" y="509.13" width="16.75" height="4.87" fill="#fff" stroke="#000" stroke-width="0.55"/>
<line x1="96.15" y1="507.05" x2="96.15" y2="505.66" stroke="#000" stroke-width="0.75" stroke-linecap="butt"/>
<line x1="91.75" y1="505.66" x2="100.55" y2="505.66" stroke="#000" stroke-width="0.75" stroke-linecap="butt"/>
<rect x="87.3" y="507.05" width="17.7" height="6.95" fill="#000"/>
<line x1="113.85" y1="507.05" x2="113.85" y2="505.66" stroke="#000" stroke-width="0.75" stroke-linecap="butt"/>
<line x1="109.45" y1="505.66" x2="118.25" y2="505.66" stroke="#000" stroke-width="0.75" stroke-linecap="butt"/>
<rect x="105.28" y="507.05" width="17.15" height="6.95" fill="#fff" stroke="#000" stroke-width="0.55"/>
<line x1="26.2" y1="443.8" x2="26.2" y2="514.7" stroke="#000" stroke-width="1.4" stroke-linecap="butt"/>
<line x1="25.5" y1="514" x2="131" y2="514" stroke="#000" stroke-width="1.4" stroke-linecap="butt"/>
<line x1="24.5" y1="514" x2="26.2" y2="514" stroke="#000" stroke-width="1" stroke-linecap="butt"/>
<text x="24.75" y="515.81" font-size="7.3" text-anchor="end" font-weight="bold" stroke="#000" stroke-width="0.4" fill="#000">0</text>
<line x1="24.5" y1="500.1" x2="26.2" y2="500.1" stroke="#000" stroke-width="1" stroke-linecap="butt"/>
<text x="24.75" y="501.91" font-size="7.3" text-anchor="end" font-weight="bold" stroke="#000" stroke-width="0.4" fill="#000">2</text>
<line x1="24.5" y1="486.2" x2="26.2" y2="486.2" stroke="#000" stroke-width="1" stroke-linecap="butt"/>
<text x="24.75" y="488.01" font-size="7.3" text-anchor="end" font-weight="bold" stroke="#000" stroke-width="0.4" fill="#000">4</text>
<line x1="24.5" y1="472.3" x2="26.2" y2="472.3" stroke="#000" stroke-width="1" stroke-linecap="butt"/>
<text x="24.75" y="474.11" font-size="7.3" text-anchor="end" font-weight="bold" stroke="#000" stroke-width="0.4" fill="#000">6</text>
<line x1="24.5" y1="458.4" x2="26.2" y2="458.4" stroke="#000" stroke-width="1" stroke-linecap="butt"/>
<text x="24.75" y="460.21" font-size="7.3" text-anchor="end" font-weight="bold" stroke="#000" stroke-width="0.4" fill="#000">8</text>
<line x1="24.5" y1="444.5" x2="26.2" y2="444.5" stroke="#000" stroke-width="1" stroke-linecap="butt"/>
<text x="24.75" y="446.31" font-size="7.3" text-anchor="end" font-weight="bold" stroke="#000" stroke-width="0.4" fill="#000">10</text>
<line x1="52.3" y1="514" x2="52.3" y2="516.3" stroke="#000" stroke-width="0.9" stroke-linecap="butt"/>
<line x1="105" y1="514" x2="105" y2="516.3" stroke="#000" stroke-width="0.9" stroke-linecap="butt"/>
<text x="80.3" y="436.1" font-size="7.35" text-anchor="middle" font-weight="bold" stroke="#000" stroke-width="0.4" fill="#000">E2F4</text>
<text x="13.4" y="479.55" font-size="7.65" text-anchor="middle" stroke="#000" stroke-width="0.3" fill="#000" transform="rotate(-90 13.4 479.55)">Fold Enrichment</text>
<text x="53" y="523" font-size="7" text-anchor="middle" font-weight="bold" stroke="#000" stroke-width="0.4" fill="#000">E2F4</text>
<text x="105" y="523" font-size="7" text-anchor="middle" font-weight="bold" stroke="#000" stroke-width="0.4" fill="#000">IgG</text>
<rect x="123.8" y="448.5" width="8.1" height="4.3" fill="#000"/>
<text x="135.8" y="453" font-size="7.25" text-anchor="start" font-weight="bold" stroke="#000" stroke-width="0.4" fill="#000">T2P</text>
<rect x="124.25" y="457.15" width="7.2" height="3.4" fill="#fff" stroke="#000" stroke-width="0.95"/>
<text x="135.8" y="461.2" font-size="7.25" text-anchor="start" font-weight="bold" stroke="#000" stroke-width="0.4" fill="#000">-5Kb</text>
</g>
<g>
<line x1="217.25" y1="507.05" x2="217.25" y2="506.7" stroke="#000" stroke-width="0.75" stroke-linecap="butt"/>
<line x1="212.85" y1="506.7" x2="221.65" y2="506.7" stroke="#000" stroke-width="0.75" stroke-linecap="butt"/>
<rect x="208.2" y="507.05" width="18.1" height="6.95" fill="#000"/>
<line x1="235" y1="510.39" x2="235" y2="508.86" stroke="#000" stroke-width="0.75" stroke-linecap="butt"/>
<line x1="230.6" y1="508.86" x2="239.4" y2="508.86" stroke="#000" stroke-width="0.75" stroke-linecap="butt"/>
<rect x="226.58" y="510.39" width="16.85" height="3.61" fill="#fff" stroke="#000" stroke-width="0.55"/>
<line x1="270" y1="507.05" x2="270" y2="506.91" stroke="#000" stroke-width="0.75" stroke-linecap="butt"/>
<line x1="265.6" y1="506.91" x2="274.4" y2="506.91" stroke="#000" stroke-width="0.75" stroke-linecap="butt"/>
<rect x="261.2" y="507.05" width="17.6" height="6.95" fill="#000"/>
<line x1="287.75" y1="507.05" x2="287.75" y2="505.66" stroke="#000" stroke-width="0.75" stroke-linecap="butt"/>
<line x1="283.35" y1="505.66" x2="292.15" y2="505.66" stroke="#000" stroke-width="0.75" stroke-linecap="butt"/>
<rect x="279.07" y="507.05" width="17.35" height="6.95" fill="#fff" stroke="#000" stroke-width="0.55"/>
<line x1="200.5" y1="443.8" x2="200.5" y2="514.7" stroke="#000" stroke-width="1.4" stroke-linecap="butt"/>
<line x1="199.8" y1="514" x2="305" y2="514" stroke="#000" stroke-width="1.4" stroke-linecap="butt"/>
<line x1="198.8" y1="514" x2="200.5" y2="514" stroke="#000" stroke-width="1" stroke-linecap="butt"/>
<text x="199.05" y="515.81" font-size="7.3" text-anchor="end" font-weight="bold" stroke="#000" stroke-width="0.4" fill="#000">0</text>
<line x1="198.8" y1="500.1" x2="200.5" y2="500.1" stroke="#000" stroke-width="1" stroke-linecap="butt"/>
<text x="199.05" y="501.91" font-size="7.3" text-anchor="end" font-weight="bold" stroke="#000" stroke-width="0.4" fill="#000">2</text>
<line x1="198.8" y1="486.2" x2="200.5" y2="486.2" stroke="#000" stroke-width="1" stroke-linecap="butt"/>
<text x="199.05" y="488.01" font-size="7.3" text-anchor="end" font-weight="bold" stroke="#000" stroke-width="0.4" fill="#000">4</text>
<line x1="198.8" y1="472.3" x2="200.5" y2="472.3" stroke="#000" stroke-width="1" stroke-linecap="butt"/>
<text x="199.05" y="474.11" font-size="7.3" text-anchor="end" font-weight="bold" stroke="#000" stroke-width="0.4" fill="#000">6</text>
<line x1="198.8" y1="458.4" x2="200.5" y2="458.4" stroke="#000" stroke-width="1" stroke-linecap="butt"/>
<text x="199.05" y="460.21" font-size="7.3" text-anchor="end" font-weight="bold" stroke="#000" stroke-width="0.4" fill="#000">8</text>
<line x1="198.8" y1="444.5" x2="200.5" y2="444.5" stroke="#000" stroke-width="1" stroke-linecap="butt"/>
<text x="199.05" y="446.31" font-size="7.3" text-anchor="end" font-weight="bold" stroke="#000" stroke-width="0.4" fill="#000">10</text>
<line x1="226.3" y1="514" x2="226.3" y2="516.3" stroke="#000" stroke-width="0.9" stroke-linecap="butt"/>
<line x1="278.8" y1="514" x2="278.8" y2="516.3" stroke="#000" stroke-width="0.9" stroke-linecap="butt"/>
<text x="254" y="436.1" font-size="7.35" text-anchor="middle" font-weight="bold" stroke="#000" stroke-width="0.4" fill="#000">E2F5</text>
<text x="187.1" y="479.55" font-size="7.65" text-anchor="middle" stroke="#000" stroke-width="0.3" fill="#000" transform="rotate(-90 187.1 479.55)">Fold Enrichment</text>
<text x="226.3" y="523" font-size="7" text-anchor="middle" font-weight="bold" stroke="#000" stroke-width="0.4" fill="#000">E2F5</text>
<text x="278.2" y="523" font-size="7" text-anchor="middle" font-weight="bold" stroke="#000" stroke-width="0.4" fill="#000">IgG</text>
<path d="M217.7 500.4 V498.1 H235 V500.4" fill="none" stroke="#000" stroke-width="0.9"/>
<text x="227.6" y="495.5" font-size="6" text-anchor="middle" font-weight="bold" stroke="#000" stroke-width="0.4" fill="#000" letter-spacing="0.7">*</text>
<rect x="298.1" y="446.6" width="8.1" height="4.3" fill="#000"/>
<text x="309.8" y="451.1" font-size="7.25" text-anchor="start" font-weight="bold" stroke="#000" stroke-width="0.4" fill="#000">T2P</text>
<rect x="298.55" y="455.25" width="7.2" height="3.4" fill="#fff" stroke="#000" stroke-width="0.95"/>
<text x="309.8" y="459.3" font-size="7.25" text-anchor="start" font-weight="bold" stroke="#000" stroke-width="0.4" fill="#000">-5Kb</text>
</g>
<g>
<line x1="389.45" y1="469.51" x2="389.45" y2="465.01" stroke="#000" stroke-width="0.75" stroke-linecap="butt"/>
<line x1="385.05" y1="465.01" x2="393.85" y2="465.01" stroke="#000" stroke-width="0.75" stroke-linecap="butt"/>
<rect x="380.8" y="469.51" width="17.3" height="44.49" fill="#000"/>
<line x1="406.85" y1="504.06" x2="406.85" y2="502.4" stroke="#000" stroke-width="0.75" stroke-linecap="butt"/>
<line x1="402.45" y1="502.4" x2="411.25" y2="502.4" stroke="#000" stroke-width="0.75" stroke-linecap="butt"/>
<rect x="398.38" y="504.06" width="16.95" height="9.94" fill="#fff" stroke="#000" stroke-width="0.55"/>
<line x1="372.1" y1="442.3" x2="372.1" y2="514.7" stroke="#000" stroke-width="1.4" stroke-linecap="butt"/>
<line x1="371.4" y1="514" x2="475.5" y2="514" stroke="#000" stroke-width="1.4" stroke-linecap="butt"/>
<line x1="370.4" y1="514" x2="372.1" y2="514" stroke="#000" stroke-width="1" stroke-linecap="butt"/>
<text x="371.45" y="515.93" font-size="6.8" text-anchor="end" font-weight="bold" stroke="#000" stroke-width="0.4" fill="#000">0</text>
<line x1="370.4" y1="490.33" x2="372.1" y2="490.33" stroke="#000" stroke-width="1" stroke-linecap="butt"/>
<text x="371.45" y="492.27" font-size="6.8" text-anchor="end" font-weight="bold" stroke="#000" stroke-width="0.4" fill="#000">50</text>
<line x1="370.4" y1="466.67" x2="372.1" y2="466.67" stroke="#000" stroke-width="1" stroke-linecap="butt"/>
<text x="371.45" y="468.6" font-size="6.8" text-anchor="end" font-weight="bold" stroke="#000" stroke-width="0.4" fill="#000">100</text>
<line x1="370.4" y1="443" x2="372.1" y2="443" stroke="#000" stroke-width="1" stroke-linecap="butt"/>
<text x="371.45" y="444.93" font-size="6.8" text-anchor="end" font-weight="bold" stroke="#000" stroke-width="0.4" fill="#000">150</text>
<line x1="398.1" y1="514" x2="398.1" y2="516.3" stroke="#000" stroke-width="0.9" stroke-linecap="butt"/>
<line x1="449.8" y1="514" x2="449.8" y2="516.3" stroke="#000" stroke-width="0.9" stroke-linecap="butt"/>
<text x="426.3" y="419.3" font-size="7.35" text-anchor="middle" font-weight="bold" stroke="#000" stroke-width="0.4" fill="#000">Ac-His4</text>
<text x="357.8" y="479.8" font-size="7.65" text-anchor="middle" stroke="#000" stroke-width="0.3" fill="#000" transform="rotate(-90 357.8 479.8)">Fold Enrichment</text>
<text x="399.6" y="525.8" font-size="7" text-anchor="middle" font-weight="bold" stroke="#000" stroke-width="0.4" fill="#000">Ac-His4</text>
<text x="449.8" y="525.8" font-size="7" text-anchor="middle" font-weight="bold" stroke="#000" stroke-width="0.4" fill="#000">IgG</text>
<path d="M389.8 460.8 V459.1 H407.2 V460.8" fill="none" stroke="#000" stroke-width="0.9"/>
<text x="399.05" y="457.4" font-size="6" text-anchor="middle" font-weight="bold" stroke="#000" stroke-width="0.4" fill="#000" letter-spacing="0.7">***</text>
<rect x="468.1" y="446.6" width="8.1" height="4.3" fill="#000"/>
<text x="479.9" y="451.1" font-size="7.25" text-anchor="start" font-weight="bold" stroke="#000" stroke-width="0.4" fill="#000">T2P</text>
<rect x="468.55" y="455.25" width="7.2" height="3.4" fill="#fff" stroke="#000" stroke-width="0.95"/>
<text x="479.9" y="459.3" font-size="7.25" text-anchor="start" font-weight="bold" stroke="#000" stroke-width="0.4" fill="#000">-5Kb</text>
</g>
</g></svg></body></html>
